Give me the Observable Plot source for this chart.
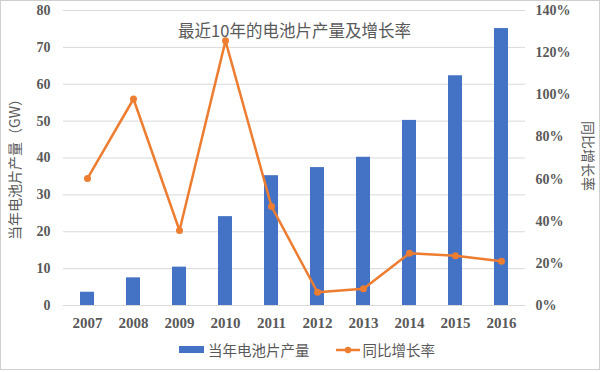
<!DOCTYPE html>
<html><head><meta charset="utf-8">
<script src="https://cdn.jsdelivr.net/npm/d3@7"></script>
<script src="https://cdn.jsdelivr.net/npm/@observablehq/plot@0.6"></script>
<style>
body{margin:0;background:#fff;}
#wrap{position:relative;width:600px;height:372px;overflow:hidden;}
#border{position:absolute;left:0;top:0;width:598px;height:368px;border:1px solid #d0d0d0;pointer-events:none;}
#legend{position:absolute;left:0;top:339px;width:600px;display:flex;justify-content:center;align-items:center;font-family:"Noto Sans CJK SC","Noto Sans",sans-serif;font-size:14.5px;color:#595959;}
.sw{display:inline-block;}
</style></head>
<body>
<div id="wrap"><div id="chart"></div><div id="border"></div>
<div id="legend">
 <span class="sw" style="width:25px;height:7px;background:#4472C4;margin-right:4px;margin-left:14px"></span><span>当年电池片产量</span>
 <svg width="24" height="12" style="margin-left:26px;margin-right:3px"><line x1="0" y1="6" x2="24" y2="6" stroke="#ED7D31" stroke-width="2.5"/><circle cx="12" cy="6" r="3.2" fill="#ED7D31"/></svg><span>同比增长率</span>
</div></div>
<script>
const years = ["2007","2008","2009","2010","2011","2012","2013","2014","2015","2016"];
const production = [3.6, 7.5, 10.4, 24.1, 35.2, 37.4, 40.2, 50.2, 62.3, 75.1];
const growth = [60.3, 98, 35.6, 125.6, 47, 6.3, 7.9, 24.8, 23.6, 21];
const leftTicks = [0,10,20,30,40,50,60,70,80];
const rightTicks = [0,20,40,60,80,100,120,140];
const title = "最近10年的电池片产量及增长率";
const leftLabel = "当年电池片产量（GW）";
const rightLabel = "同比增长率";

const k = 80/140;
const barData = years.map((y,i)=>({year:y, value:production[i]}));
const lineData = years.map((y,i)=>({year:y, g:growth[i]*k}));
const serif = "Liberation Serif, Times New Roman, serif";
const cjk = "Noto Sans CJK SC, Noto Sans, sans-serif";

const chart = Plot.plot({
  width:600, height:372,
  marginLeft:63, marginRight:75, marginTop:10, marginBottom:67,
  style:{fontFamily:serif, background:"transparent", overflow:"visible"},
  x:{type:"band", domain:years, paddingInner:0.7, paddingOuter:0.35},
  y:{domain:[0,80]},
  marks:[
    Plot.gridY(leftTicks,{stroke:"#d9d9d9", strokeOpacity:1, strokeWidth:1}),
    Plot.barY(barData,{x:"year", y:"value", fill:"#4472C4"}),
    Plot.line(lineData,{x:"year", y:"g", stroke:"#ED7D31", strokeWidth:2.5}),
    Plot.dot(lineData,{x:"year", y:"g", fill:"#ED7D31", r:3.5}),
    Plot.axisY({anchor:"left", ticks:leftTicks, tickSize:0, tickPadding:13, fontSize:14, fontWeight:"bold", fontFamily:serif, fill:"#595959", label:null}),
    Plot.axisY({anchor:"right", ticks:rightTicks.map(p=>p*k), tickFormat:v=>Math.round(v/k)+"%", tickSize:0, tickPadding:10, fontSize:14, fontWeight:"bold", fontFamily:serif, fill:"#595959", label:null}),
    Plot.axisX({tickSize:0, tickPadding:12, fontSize:15, fontWeight:"bold", fontFamily:serif, fill:"#595959", label:null}),
    Plot.text([title],{frameAnchor:"top", dy:15, text:d=>d, fontSize:16.5, fill:"#595959", fontFamily:cjk}),
    Plot.text([leftLabel],{frameAnchor:"left", textAnchor:"middle", dx:-48, dy:8, rotate:-90, text:d=>d, fontSize:14, fill:"#595959", fontFamily:cjk}),
    Plot.text([rightLabel],{frameAnchor:"right", textAnchor:"middle", dx:62, dy:-2, rotate:90, text:d=>d, fontSize:14, fill:"#595959", fontFamily:cjk})
  ]
});
document.getElementById("chart").appendChild(chart);
</script>
</body></html>
